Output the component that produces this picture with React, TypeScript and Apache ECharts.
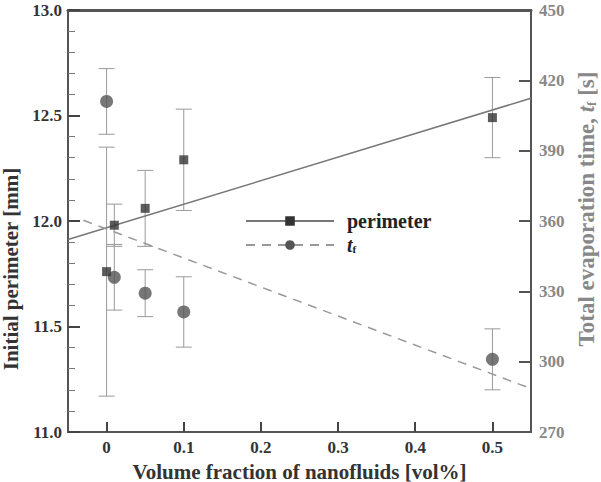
import React, { useEffect, useRef } from "react";
import * as echarts from "echarts";

const volumeFraction = [0, 0.01, 0.05, 0.1, 0.5];
const perimeterMean = [11.76, 11.98, 12.06, 12.29, 12.49];
const perimeterError = [0.59, 0.1, 0.18, 0.24, 0.19];
const evapTime = [411, 336, 329.2, 321.2, 301];
const evapTimeError = [14, 14, 10, 15, 13];
const perimeterFit = [
  [-0.05, 11.912],
  [0.55, 12.582],
];
const evapTimeFit = [
  [-0.03, 360.3],
  [0.55, 288.5],
];
const xTicks = [0, 0.1, 0.2, 0.3, 0.4, 0.5];

const FONT = "Liberation Serif";

function errorSeries(name: string, yIndex: number, means: number[], errs: number[], color: string, half: number) {
  return {
    name,
    type: "custom",
    yAxisIndex: yIndex,
    z: 1,
    silent: true,
    data: volumeFraction.map((x, i) => [x, means[i] - errs[i], means[i] + errs[i]]),
    encode: { x: 0, y: [1, 2] },
    renderItem: (_p: any, api: any) => {
      const x = api.value(0);
      const lo = api.coord([x, api.value(1)]);
      const hi = api.coord([x, api.value(2)]);
      const style = { stroke: color, lineWidth: 1 };
      return {
        type: "group",
        children: [
          { type: "line", shape: { x1: hi[0], y1: hi[1], x2: lo[0], y2: lo[1] }, style },
          { type: "line", shape: { x1: hi[0] - half, y1: hi[1], x2: hi[0] + half, y2: hi[1] }, style },
          { type: "line", shape: { x1: lo[0] - half, y1: lo[1], x2: lo[0] + half, y2: lo[1] }, style },
        ],
      };
    },
  };
}

export default function App() {
  const ref = useRef<HTMLDivElement>(null);
  useEffect(() => {
    if (!ref.current) return;
    const chart = echarts.init(ref.current, null, { renderer: "svg" });
    const axisLineStyle = { color: "#555", width: 2 };
    chart.setOption({
      animation: false,
      backgroundColor: "#fff",
      textStyle: { fontFamily: FONT, fontWeight: "bold" },
      grid: { left: 68, right: 70, top: 10, bottom: 50, outerBoundsMode: "none", containLabel: false },
      legend: {
        left: 245,
        top: 211,
        padding: 0,
        orient: "vertical",
        itemWidth: 88,
        itemHeight: 12,
        itemGap: 4,
        data: ["perimeter", "tf"],
        formatter: (n: string) => (n === "tf" ? "{it|t}{sub|f}" : "{b|perimeter}"),
        textStyle: {
          fontFamily: FONT,
          padding: [0, 0, 0, 8],
          rich: {
            b: { fontFamily: FONT, fontWeight: "bold", fontSize: 20, color: "#222", lineHeight: 18 },
            it: { fontFamily: FONT, fontWeight: "bold", fontStyle: "italic", fontSize: 20, color: "#222", lineHeight: 18 },
            sub: { fontFamily: FONT, fontWeight: "bold", fontSize: 11, color: "#222", verticalAlign: "bottom", lineHeight: 12, padding: [6, 0, 0, 0] },
          },
        },
      },
      xAxis: [
        {
          type: "value",
          min: -0.05,
          max: 0.55,
          name: "Volume fraction of nanofluids [vol%]",
          nameLocation: "middle",
          nameGap: 25,
          nameTextStyle: { fontFamily: FONT, fontWeight: "bold", fontSize: 21, color: "#333", lineHeight: 22 },
          axisLine: { show: true, onZero: false, lineStyle: axisLineStyle },
          axisTick: { show: true, inside: true, length: 10, customValues: xTicks, lineStyle: { color: "#444", width: 2 } },
          axisLabel: {
            customValues: xTicks,
            formatter: (v: number) => String(Math.round(v * 10) / 10),
            fontFamily: FONT,
            fontWeight: "bold",
            fontSize: 17,
            color: "#333",
            margin: 7,
          },
          splitLine: { show: false },
        },
        {
          type: "value",
          position: "top",
          min: -0.05,
          max: 0.55,
          axisLine: { show: true, onZero: false, lineStyle: { color: "#555", width: 3 } },
          axisTick: { show: false },
          axisLabel: { show: false },
          splitLine: { show: false },
        },
      ],
      yAxis: [
        {
          type: "value",
          min: 11,
          max: 13,
          interval: 0.5,
          name: "Initial perimeter [mm]{sp| }",
          nameLocation: "middle",
          nameRotate: 90,
          nameGap: 42,
          nameTextStyle: {
            fontFamily: FONT,
            fontWeight: "bold",
            fontSize: 21,
            color: "#333",
            rich: { sp: { width: 96, fontSize: 21 } },
          },
          axisLine: { show: true, onZero: false, lineStyle: axisLineStyle },
          axisTick: { show: true, inside: true, length: 12, lineStyle: { color: "#444", width: 2 } },
          minorTick: { show: true, splitNumber: 5, length: 7, lineStyle: { color: "#777", width: 1 } },
          axisLabel: {
            formatter: (v: number) => v.toFixed(1),
            fontFamily: FONT,
            fontWeight: "bold",
            fontSize: 17,
            color: "#333",
            margin: 6,
          },
          splitLine: { show: false },
        },
        {
          type: "value",
          position: "right",
          min: 270,
          max: 450,
          interval: 30,
          name: "{sp| }Total evaporation time, {it|t}{sub|f} [s]",
          nameLocation: "middle",
          nameRotate: 90,
          nameGap: 42,
          nameTextStyle: {
            fontFamily: FONT,
            fontWeight: "bold",
            fontSize: 23,
            color: "#888",
            rich: {
              sp: { width: 24, fontSize: 23 },
              it: { fontFamily: FONT, fontWeight: "bold", fontStyle: "italic", fontSize: 23, color: "#888" },
              sub: { fontFamily: FONT, fontWeight: "bold", fontSize: 13, color: "#888", verticalAlign: "bottom", padding: [7, 0, 0, 0] },
            },
          },
          axisLine: { show: true, onZero: false, lineStyle: axisLineStyle },
          axisTick: { show: true, inside: true, length: 12, lineStyle: { color: "#555", width: 2 } },
          axisLabel: {
            fontFamily: FONT,
            fontWeight: "bold",
            fontSize: 17,
            color: "#888",
            margin: 8,
          },
          splitLine: { show: false },
        },
      ],
      series: [
        errorSeries("perimeterErr", 0, perimeterMean, perimeterError, "#999", 8),
        errorSeries("tfErr", 1, evapTime, evapTimeError, "#999", 8),
        {
          name: "perimeter",
          type: "line",
          yAxisIndex: 0,
          data: perimeterFit,
          symbol: "rect",
          showSymbol: false,
          z: 2,
          itemStyle: { color: "#333" },
          lineStyle: { color: "#777", width: 1.5, type: "solid" },
          silent: true,
        },
        {
          name: "tf",
          type: "line",
          yAxisIndex: 1,
          data: evapTimeFit,
          symbol: "circle",
          showSymbol: false,
          z: 2,
          itemStyle: { color: "#555" },
          lineStyle: { color: "#999", width: 1.5, type: [9, 7] },
          silent: true,
        },
        {
          name: "perimeterPts",
          type: "scatter",
          yAxisIndex: 0,
          symbol: "rect",
          symbolSize: 9,
          z: 4,
          itemStyle: { color: "#333" },
          data: volumeFraction.map((x, i) => [x, perimeterMean[i]]),
        },
        {
          name: "tfPts",
          type: "scatter",
          yAxisIndex: 1,
          symbol: "circle",
          symbolSize: 13,
          z: 3,
          itemStyle: { color: "#555" },
          data: volumeFraction.map((x, i) => [x, evapTime[i]]),
        },
      ],
    });
    return () => chart.dispose();
  }, []);
  return <div ref={ref} style={{ width: 601, height: 482, position: "absolute", left: 0, top: 0 }} />;
}
